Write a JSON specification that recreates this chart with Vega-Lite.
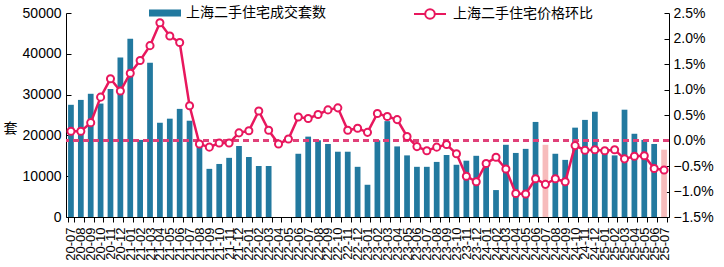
{
  "$schema": "https://vega.github.io/schema/vega-lite/v6.json",
  "width": 603,
  "height": 204,
  "autosize": {"type": "none"},
  "padding": {"left": 66, "top": 13, "right": 55, "bottom": 50},
  "background": "white",
  "config": {
    "font": "Liberation Sans, Noto Sans CJK SC, sans-serif",
    "view": {"stroke": null},
    "axis": {"grid": false, "domainColor": "#000000", "tickColor": "#000000", "labelColor": "#000000", "labelFontSize": 14, "titleColor": "#000000", "titleFontWeight": "normal", "domainWidth": 1, "tickWidth": 1, "labelOverlap": false}
  },
  "data": {"values": [
    {"month": "20-07", "vol": 27500, "pct": 0.18, "kind": "上海二手住宅成交套数"},
    {"month": "20-08", "vol": 28700, "pct": 0.18, "kind": "上海二手住宅成交套数"},
    {"month": "20-09", "vol": 30200, "pct": 0.35, "kind": "上海二手住宅成交套数"},
    {"month": "20-10", "vol": 27800, "pct": 0.85, "kind": "上海二手住宅成交套数"},
    {"month": "20-11", "vol": 31400, "pct": 1.21, "kind": "上海二手住宅成交套数"},
    {"month": "20-12", "vol": 39100, "pct": 0.97, "kind": "上海二手住宅成交套数"},
    {"month": "21-01", "vol": 43700, "pct": 1.32, "kind": "上海二手住宅成交套数"},
    {"month": "21-02", "vol": 18900, "pct": 1.57, "kind": "上海二手住宅成交套数"},
    {"month": "21-03", "vol": 37800, "pct": 1.86, "kind": "上海二手住宅成交套数"},
    {"month": "21-04", "vol": 23100, "pct": 2.31, "kind": "上海二手住宅成交套数"},
    {"month": "21-05", "vol": 24100, "pct": 2.05, "kind": "上海二手住宅成交套数"},
    {"month": "21-06", "vol": 26500, "pct": 1.92, "kind": "上海二手住宅成交套数"},
    {"month": "21-07", "vol": 23600, "pct": 0.68, "kind": "上海二手住宅成交套数"},
    {"month": "21-08", "vol": 17500, "pct": -0.07, "kind": "上海二手住宅成交套数"},
    {"month": "21-09", "vol": 11800, "pct": -0.13, "kind": "上海二手住宅成交套数"},
    {"month": "21-10", "vol": 13000, "pct": -0.05, "kind": "上海二手住宅成交套数"},
    {"month": "21-11", "vol": 14500, "pct": -0.05, "kind": "上海二手住宅成交套数"},
    {"month": "21-12", "vol": 17400, "pct": 0.15, "kind": "上海二手住宅成交套数"},
    {"month": "22-01", "vol": 14700, "pct": 0.19, "kind": "上海二手住宅成交套数"},
    {"month": "22-02", "vol": 12500, "pct": 0.58, "kind": "上海二手住宅成交套数"},
    {"month": "22-03", "vol": 12500, "pct": 0.20, "kind": "上海二手住宅成交套数"},
    {"month": "22-04", "vol": null, "pct": -0.07, "kind": "上海二手住宅成交套数"},
    {"month": "22-05", "vol": null, "pct": 0.03, "kind": "上海二手住宅成交套数"},
    {"month": "22-06", "vol": 15500, "pct": 0.46, "kind": "上海二手住宅成交套数"},
    {"month": "22-07", "vol": 19700, "pct": 0.43, "kind": "上海二手住宅成交套数"},
    {"month": "22-08", "vol": 18800, "pct": 0.51, "kind": "上海二手住宅成交套数"},
    {"month": "22-09", "vol": 17900, "pct": 0.60, "kind": "上海二手住宅成交套数"},
    {"month": "22-10", "vol": 16000, "pct": 0.64, "kind": "上海二手住宅成交套数"},
    {"month": "22-11", "vol": 16000, "pct": 0.20, "kind": "上海二手住宅成交套数"},
    {"month": "22-12", "vol": 12300, "pct": 0.24, "kind": "上海二手住宅成交套数"},
    {"month": "23-01", "vol": 7900, "pct": 0.16, "kind": "上海二手住宅成交套数"},
    {"month": "23-02", "vol": 18800, "pct": 0.53, "kind": "上海二手住宅成交套数"},
    {"month": "23-03", "vol": 23500, "pct": 0.47, "kind": "上海二手住宅成交套数"},
    {"month": "23-04", "vol": 17300, "pct": 0.41, "kind": "上海二手住宅成交套数"},
    {"month": "23-05", "vol": 15100, "pct": 0.08, "kind": "上海二手住宅成交套数"},
    {"month": "23-06", "vol": 12300, "pct": -0.12, "kind": "上海二手住宅成交套数"},
    {"month": "23-07", "vol": 12300, "pct": -0.20, "kind": "上海二手住宅成交套数"},
    {"month": "23-08", "vol": 13500, "pct": -0.13, "kind": "上海二手住宅成交套数"},
    {"month": "23-09", "vol": 15200, "pct": -0.08, "kind": "上海二手住宅成交套数"},
    {"month": "23-10", "vol": 12800, "pct": -0.26, "kind": "上海二手住宅成交套数"},
    {"month": "23-11", "vol": 13800, "pct": -0.70, "kind": "上海二手住宅成交套数"},
    {"month": "23-12", "vol": 15000, "pct": -0.81, "kind": "上海二手住宅成交套数"},
    {"month": "24-01", "vol": 12400, "pct": -0.45, "kind": "上海二手住宅成交套数"},
    {"month": "24-02", "vol": 6600, "pct": -0.33, "kind": "上海二手住宅成交套数"},
    {"month": "24-03", "vol": 17700, "pct": -0.56, "kind": "上海二手住宅成交套数"},
    {"month": "24-04", "vol": 15700, "pct": -1.04, "kind": "上海二手住宅成交套数"},
    {"month": "24-05", "vol": 16700, "pct": -1.05, "kind": "上海二手住宅成交套数"},
    {"month": "24-06", "vol": 23300, "pct": -0.75, "kind": "上海二手住宅成交套数"},
    {"month": "24-07", "vol": 17700, "pct": -0.86, "kind": "当月"},
    {"month": "24-08", "vol": 15500, "pct": -0.75, "kind": "上海二手住宅成交套数"},
    {"month": "24-09", "vol": 14000, "pct": -0.81, "kind": "上海二手住宅成交套数"},
    {"month": "24-10", "vol": 21900, "pct": -0.10, "kind": "上海二手住宅成交套数"},
    {"month": "24-11", "vol": 23800, "pct": -0.19, "kind": "上海二手住宅成交套数"},
    {"month": "24-12", "vol": 25800, "pct": -0.18, "kind": "上海二手住宅成交套数"},
    {"month": "25-01", "vol": 16500, "pct": -0.20, "kind": "上海二手住宅成交套数"},
    {"month": "25-02", "vol": 15100, "pct": -0.18, "kind": "上海二手住宅成交套数"},
    {"month": "25-03", "vol": 26300, "pct": -0.36, "kind": "上海二手住宅成交套数"},
    {"month": "25-04", "vol": 20400, "pct": -0.31, "kind": "上海二手住宅成交套数"},
    {"month": "25-05", "vol": 18900, "pct": -0.30, "kind": "上海二手住宅成交套数"},
    {"month": "25-06", "vol": 17900, "pct": -0.55, "kind": "上海二手住宅成交套数"},
    {"month": "25-07", "vol": 16500, "pct": -0.58, "kind": "当月"}
  ]},
  "layer": [
    {
      "mark": {"type": "bar"},
      "encoding": {
        "x": {"field": "month", "type": "ordinal", "sort": null,
          "scale": {"paddingInner": 0.42, "paddingOuter": 0.21,
            "domain": ["20-07","20-08","20-09","20-10","20-11","20-12","21-01","21-02","21-03","21-04","21-05","21-06","21-07","21-08","21-09","21-10","21-11","21-12","22-01","22-02","22-03","22-04","22-05","22-06","22-07","22-08","22-09","22-10","22-11","22-12","23-01","23-02","23-03","23-04","23-05","23-06","23-07","23-08","23-09","23-10","23-11","23-12","24-01","24-02","24-03","24-04","24-05","24-06","24-07","24-08","24-09","24-10","24-11","24-12","25-01","25-02","25-03","25-04","25-05","25-06","25-07"]},
          "axis": {"title": null, "labelAngle": 270, "labelFontSize": 13, "labelOverlap": false, "tickBand": "extent", "tickSize": 5, "labelPadding": 5}},
        "y": {"field": "vol", "type": "quantitative",
          "scale": {"domain": [0, 50000], "nice": false},
          "axis": {"values": [0, 10000, 20000, 30000, 40000, 50000], "format": "d", "tickSize": -5, "labelPadding": 10,
            "title": "套", "titleAngle": 0, "titleFontSize": 14, "titleX": -56, "titleY": 115, "titleAlign": "center", "titleBaseline": "middle"}},
        "color": {"field": "kind", "type": "nominal",
          "scale": {"domain": ["上海二手住宅成交套数", "当月"], "range": ["#22799f", "#f7bcbc"]},
          "legend": {"values": ["上海二手住宅成交套数"], "title": null, "orient": "none", "legendX": 83, "legendY": -16,
            "symbolType": "M-1,-0.22H1V0.22H-1Z", "symbolSize": 1024, "symbolStrokeWidth": 0, "labelFontSize": 14, "labelColor": "#000000", "labelOffset": 5, "padding": 0}}
      }
    },
    {
      "layer": [
        {
          "mark": {"type": "rule", "strokeDash": [6, 4], "color": "#e0407a", "strokeWidth": 1.5},
          "encoding": {"y": {"datum": 0, "type": "quantitative",
            "axis": {"orient": "right", "title": null, "values": [-1.5, -1, -0.5, 0, 0.5, 1, 1.5, 2, 2.5], "labelOverlap": false, "labelSeparation": 0,
                "labelExpr": "format(datum.value, '.1f') + '%'", "tickSize": -5, "labelPadding": 9}}}
        },
        {
          "mark": {"type": "line", "strokeWidth": 2.5,
            "point": {"filled": true, "fill": "white", "stroke": "#e8175d", "strokeWidth": 2, "size": 50}},
          "encoding": {
            "x": {"field": "month", "type": "ordinal", "sort": null},
            "y": {"field": "pct", "type": "quantitative",
              "scale": {"domain": [-1.5, 2.5], "nice": false, "zero": false},
              "axis": {"orient": "right", "title": null, "values": [-1.5, -1, -0.5, 0, 0.5, 1, 1.5, 2, 2.5], "labelOverlap": false, "labelSeparation": 0,
                "labelExpr": "format(datum.value, '.1f') + '%'", "tickSize": -5, "labelPadding": 9}},
            "stroke": {"datum": "上海二手住宅价格环比", "type": "nominal",
              "scale": {"domain": ["上海二手住宅价格环比"], "range": ["#e8175d"]},
              "legend": {"title": null, "orient": "none", "legendX": 347, "legendY": -16,
                "symbolType": "M-1,0H-0.3M0.3,0H1M-0.3,0A0.3,0.3 0 1 1 0.3,0A0.3,0.3 0 1 1 -0.3,0Z",
                "symbolSize": 1024, "symbolStrokeWidth": 2, "symbolStrokeColor": "#e8175d", "symbolFillColor": "white",
                "labelFontSize": 14, "labelColor": "#000000", "labelOffset": 6, "padding": 0,
                "encode": {"symbols": {"update": {"fill": {"value": "white"}, "stroke": {"value": "#e8175d"}}}}}}
          }
        }
      ]
    }
  ],
  "resolve": {"scale": {"y": "independent", "stroke": "independent", "color": "independent"}}
}
